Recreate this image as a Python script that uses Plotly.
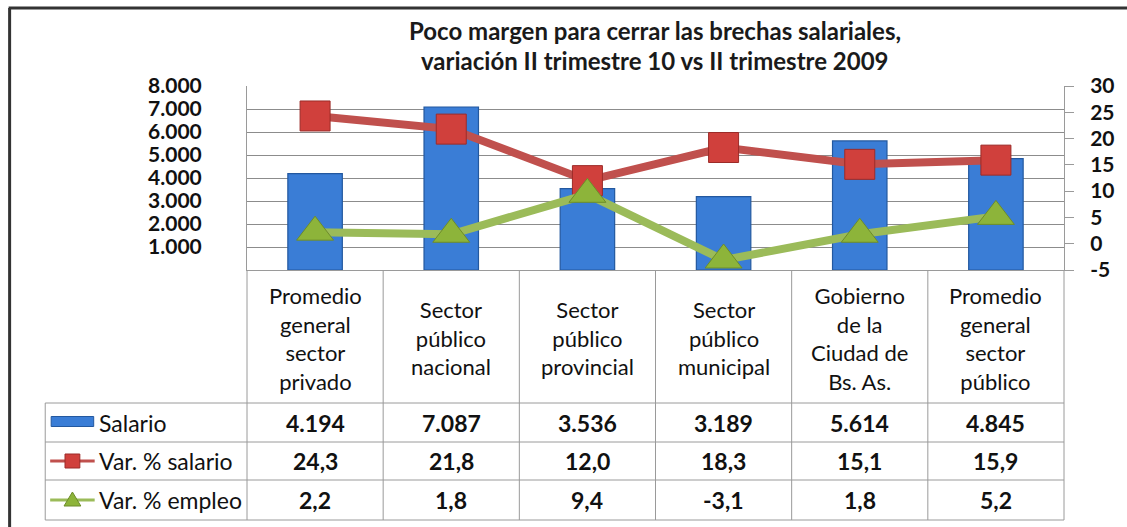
import plotly.graph_objects as go

categories = [
    "Promedio<br>general<br>sector<br>privado",
    "Sector<br>público<br>nacional",
    "Sector<br>público<br>provincial",
    "Sector<br>público<br>municipal",
    "Gobierno<br>de la<br>Ciudad de<br>Bs. As.",
    "Promedio<br>general<br>sector<br>público",
]
salario = [4194, 7087, 3536, 3189, 5614, 4845]
var_salario = [24.3, 21.8, 12.0, 18.3, 15.1, 15.9]
var_empleo = [2.2, 1.8, 9.4, -3.1, 1.8, 5.2]
series_names = ["Salario", "Var. % salario", "Var. % empleo"]
title_lines = ["Poco margen para cerrar las brechas salariales,",
               "variación II trimestre 10 vs II trimestre 2009"]
left_ticks = [1000, 2000, 3000, 4000, 5000, 6000, 7000, 8000]
right_ticks = [-5, 0, 5, 10, 15, 20, 25, 30]

W, H = 1127, 527
PL, PR, PT, PB = 247, 1073, 86, 270
FONT = "Lato"

def xp(px):
    return (px - PL) / (PR - PL)

def yp(py):
    return (PB - py) / (PB - PT)

BLUE = "#3a7dd6"
RED = "#c0504d"
RED_M = "#d0403c"
GREEN = "#9bbb59"
GREEN_M = "#8db43a"

x_idx = list(range(len(categories)))

fig = go.Figure()
fig.add_trace(go.Bar(
    x=x_idx, y=salario, name=series_names[0], width=0.4,
    marker=dict(color=BLUE, line=dict(color="#23589f", width=1.2)),
    yaxis="y",
))
fig.add_trace(go.Scatter(
    x=x_idx, y=var_salario, name=series_names[1], mode="lines+markers",
    line=dict(color=RED, width=8),
    marker=dict(symbol="square", size=30, color=RED_M, line=dict(color="#9c2b28", width=1)),
    yaxis="y2",
))
fig.add_trace(go.Scatter(
    x=x_idx, y=var_empleo, name=series_names[2], mode="lines+markers",
    line=dict(color=GREEN, width=8),
    marker=dict(symbol="triangle-up", size=32, color=GREEN_M, line=dict(color="#6d8c2a", width=1)),
    yaxis="y2",
))

shapes = []
annotations = []

# outer border (left + top)
shapes.append(dict(type="line", xref="paper", yref="paper", x0=xp(7), x1=xp(7), y0=yp(8), y1=yp(540),
                   line=dict(color="#333333", width=3)))
shapes.append(dict(type="line", xref="paper", yref="paper", x0=xp(6), x1=xp(1140), y0=yp(8), y1=yp(8),
                   line=dict(color="#333333", width=3)))

# title
for i, t in enumerate(title_lines):
    annotations.append(dict(text="<b>%s</b>" % t, xref="paper", yref="paper", x=xp(659), y=yp(30 + 30 * i),
                            showarrow=False, xanchor="center", yanchor="middle",
                            font=dict(family=FONT, size=24, color="#1a1a1a")))

# data table
TC = "#9a9a9a"
n = len(categories)
cw = (PR - PL) / n
row_lines = [403, 442, 480, 520]
for k in range(n + 1):
    xx = PL + k * cw
    shapes.append(dict(type="line", xref="paper", yref="paper", x0=xp(xx), x1=xp(xx), y0=yp(PB), y1=yp(520),
                       line=dict(color=TC, width=1)))
shapes.append(dict(type="line", xref="paper", yref="paper", x0=xp(43), x1=xp(43), y0=yp(403), y1=yp(520),
                   line=dict(color=TC, width=1)))
for ry in row_lines:
    shapes.append(dict(type="line", xref="paper", yref="paper", x0=xp(43), x1=xp(PR), y0=yp(ry), y1=yp(ry),
                       line=dict(color=TC, width=1)))

def fmt_int(v):
    return "{:,.0f}".format(v).replace(",", ".")

def fmt_dec(v):
    return "{:.1f}".format(v).replace(".", ",")

rows = [[fmt_int(v) for v in salario], [fmt_dec(v) for v in var_salario], [fmt_dec(v) for v in var_empleo]]
for k in range(n):
    cx = PL + (k + 0.5) * cw
    annotations.append(dict(text=categories[k], xref="paper", yref="paper", x=xp(cx), y=yp(338),
                            showarrow=False, xanchor="center", yanchor="middle", align="center",
                            font=dict(family=FONT, size=22, color="#111111")))
    for r in range(3):
        cy = (row_lines[r] + row_lines[r + 1]) / 2
        annotations.append(dict(text="<b>%s</b>" % rows[r][k], xref="paper", yref="paper", x=xp(cx), y=yp(cy),
                                showarrow=False, xanchor="center", yanchor="middle",
                                font=dict(family=FONT, size=23, color="#111111")))

# legend column
for r in range(3):
    cy = (row_lines[r] + row_lines[r + 1]) / 2
    annotations.append(dict(text=series_names[r], xref="paper", yref="paper", x=xp(95), y=yp(cy),
                            showarrow=False, xanchor="left", yanchor="middle",
                            font=dict(family=FONT, size=23, color="#111111")))
cy0 = (row_lines[0] + row_lines[1]) / 2
shapes.append(dict(type="rect", xref="paper", yref="paper", x0=xp(49), x1=xp(92), y0=yp(cy0 - 6), y1=yp(cy0 + 4),
                   fillcolor=BLUE, line=dict(color="#23589f", width=1)))
cy1 = (row_lines[1] + row_lines[2]) / 2
shapes.append(dict(type="line", xref="paper", yref="paper", x0=xp(48), x1=xp(93), y0=yp(cy1), y1=yp(cy1),
                   line=dict(color=RED, width=3)))
shapes.append(dict(type="rect", xref="paper", yref="paper", x0=xp(63), x1=xp(78), y0=yp(cy1 - 7), y1=yp(cy1 + 7),
                   fillcolor=RED_M, line=dict(color="#9c2b28", width=1)))
cy2 = (row_lines[2] + row_lines[3]) / 2
shapes.append(dict(type="line", xref="paper", yref="paper", x0=xp(48), x1=xp(93), y0=yp(cy2), y1=yp(cy2),
                   line=dict(color=GREEN, width=3)))
shapes.append(dict(type="path", xref="paper", yref="paper",
                   path="M %f %f L %f %f L %f %f Z" % (xp(62), yp(cy2 + 6), xp(79), yp(cy2 + 6), xp(70.5), yp(cy2 - 8)),
                   fillcolor=GREEN_M, line=dict(color="#6d8c2a", width=1)))

fig.update_layout(
    width=W, height=H, autosize=False,
    margin=dict(l=PL, r=W - PR, t=PT, b=H - PB, pad=0),
    paper_bgcolor="white", plot_bgcolor="white",
    separators=",.",
    showlegend=False,
    bargap=0.6,
    xaxis=dict(range=[-0.5, n - 0.5], tickvals=x_idx, showticklabels=False, ticks="",
               showgrid=False, zeroline=False, showline=True, linecolor=TC, linewidth=1),
    yaxis=dict(range=[0, 8000], tickvals=left_ticks, ticktext=[fmt_int(v) for v in left_ticks],
               showgrid=True, gridcolor="#8c8c8c", gridwidth=1, zeroline=False,
               showline=True, linecolor=TC, linewidth=1, ticks="", ticklabelstandoff=40,
               tickfont=dict(family=FONT, size=21, color="#111111", weight="bold")),
    yaxis2=dict(range=[-5, 30], tickvals=right_ticks, ticktext=[str(v) for v in right_ticks],
                overlaying="y", side="right",
                showgrid=False, zeroline=False, showline=True, linecolor=TC, linewidth=1,
                ticks="outside", ticklen=9, tickcolor=TC, ticklabelstandoff=12,
                tickfont=dict(family=FONT, size=21, color="#111111", weight="bold")),
    shapes=shapes,
    annotations=annotations,
    font=dict(family=FONT),
)

fig.write_html("out.html", config={"displayModeBar": False},
               post_script="document.body.style.margin='0';document.body.style.overflow='hidden';")
